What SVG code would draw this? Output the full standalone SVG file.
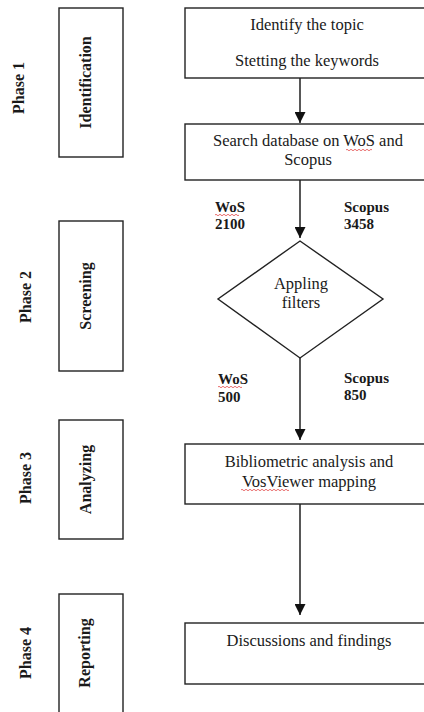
<svg xmlns="http://www.w3.org/2000/svg" width="424" height="712" viewBox="0 0 424 712">
<defs>
<style>
.box{fill:#fff;stroke:#222;stroke-width:1.4}
.t{font-family:"Liberation Serif","Times New Roman",serif;font-size:16.5px;fill:#1a1a1a;text-anchor:middle}
.b{font-family:"Liberation Serif","Times New Roman",serif;font-size:16px;font-weight:bold;fill:#1a1a1a}
.lbl{font-family:"Liberation Serif","Times New Roman",serif;font-size:15px;font-weight:bold;fill:#1a1a1a}
.ln{stroke:#111;stroke-width:1.4;fill:none}
.sq{stroke:#e03030;stroke-width:0.7;fill:none}
</style>
<marker id="ah" viewBox="0 0 10 10" refX="10" refY="5" markerWidth="11" markerHeight="11" markerUnits="userSpaceOnUse" orient="auto">
<path d="M0,0 L10,5 L0,10 Z" fill="#111"/>
</marker>
</defs>
<rect width="424" height="712" fill="#fff"/>

<g id="phases">
<text class="b" text-anchor="middle" transform="translate(24,88) rotate(-90)">Phase 1</text>
<text class="b" text-anchor="middle" transform="translate(31,297) rotate(-90)">Phase 2</text>
<text class="b" text-anchor="middle" transform="translate(31,478) rotate(-90)">Phase 3</text>
<text class="b" text-anchor="middle" transform="translate(31,653) rotate(-90)">Phase 4</text>
</g>

<g id="stage-identification">
<rect class="box" x="59" y="8" width="64" height="149"/>
<text class="b" text-anchor="middle" transform="translate(91,82.5) rotate(-90)">Identification</text>
</g>
<g id="stage-screening">
<rect class="box" x="59" y="221" width="64" height="150"/>
<text class="b" text-anchor="middle" transform="translate(91,296) rotate(-90)">Screening</text>
</g>
<g id="stage-analyzing">
<rect class="box" x="59" y="420" width="64" height="119"/>
<text class="b" text-anchor="middle" transform="translate(91,479.5) rotate(-90)">Analyzing</text>
</g>
<g id="stage-reporting">
<rect class="box" x="59" y="594" width="64" height="130"/>
<text class="b" text-anchor="middle" transform="translate(90,653) rotate(-90)">Reporting</text>
</g>

<g id="connectors">
<line class="ln" x1="300" y1="78" x2="300" y2="123" marker-end="url(#ah)"/>
<line class="ln" x1="300" y1="180" x2="300" y2="238" marker-end="url(#ah)"/>
<line class="ln" x1="300" y1="358" x2="300" y2="440" marker-end="url(#ah)"/>
<line class="ln" x1="300" y1="504" x2="300" y2="615" marker-end="url(#ah)"/>
</g>

<g id="node-topic">
<rect class="box" x="185" y="8" width="241" height="70"/>
<text class="t" x="307" y="30">Identify the topic</text>
<text class="t" x="307" y="66">Stetting the keywords</text>
</g>

<g id="node-search">
<rect class="box" x="185" y="124" width="241" height="56"/>
<text class="t" x="308" y="146">Search database on WoS and</text>
<text class="t" x="308" y="165">Scopus</text>
<path class="sq" d="M346,150 q1,-1.5 2,0 t2,0 t2,0 t2,0 t2,0 t2,0 t2,0 t2,0 t2,0 t2,0 t2,0 t2,0 t2,0"/>
</g>

<g id="counts-1">
<text class="lbl" x="215" y="212">WoS</text>
<text class="lbl" x="215" y="229">2100</text>
<path class="sq" d="M215,215 q1,-1.5 2,0 t2,0 t2,0 t2,0 t2,0 t2,0 t2,0 t2,0 t2,0 t2,0 t2,0 t2,0"/>
<text class="lbl" x="344" y="212">Scopus</text>
<text class="lbl" x="344" y="229">3458</text>
</g>

<g id="node-filters">
<polygon class="box" points="300,241 383,299 300,358 218,299"/>
<text class="t" x="301" y="289">Appling</text>
<text class="t" x="301" y="308">filters</text>
</g>

<g id="counts-2">
<text class="lbl" x="218" y="384">WoS</text>
<text class="lbl" x="218" y="402">500</text>
<path class="sq" d="M218,387 q1,-1.5 2,0 t2,0 t2,0 t2,0 t2,0 t2,0 t2,0 t2,0 t2,0 t2,0 t2,0 t2,0"/>
<text class="lbl" x="344" y="383">Scopus</text>
<text class="lbl" x="344" y="400">850</text>
</g>

<g id="node-analysis">
<rect class="box" x="185" y="444" width="241" height="60"/>
<text class="t" x="309" y="467">Bibliometric analysis and</text>
<text class="t" x="309" y="487">VosViewer mapping</text>
<path class="sq" d="M241,490 q1,-1.5 2,0 t2,0 t2,0 t2,0 t2,0 t2,0 t2,0 t2,0 t2,0 t2,0 t2,0 t2,0 t2,0 t2,0 t2,0 t2,0 t2,0 t2,0 t2,0 t2,0 t2,0 t2,0 t2,0 t2,0"/>
</g>

<g id="node-discussion">
<rect class="box" x="185" y="623" width="241" height="61"/>
<text class="t" x="309" y="646">Discussions and findings</text>
</g>
</svg>
